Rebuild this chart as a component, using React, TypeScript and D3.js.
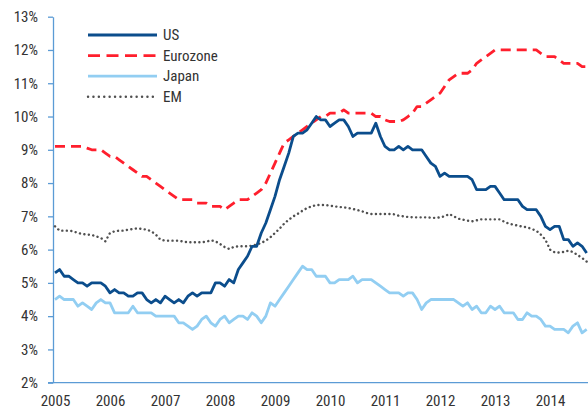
import React, { useEffect, useRef } from 'react';
import * as d3 from 'd3';

// monthly unemployment rate, Jan 2005 .. Sep 2014
const startYear = 2005;
const yearTicks = [2005, 2006, 2007, 2008, 2009, 2010, 2011, 2012, 2013, 2014];
const pctTicks = [2, 3, 4, 5, 6, 7, 8, 9, 10, 11, 12, 13];

const us = [
  5.3, 5.4, 5.2, 5.2, 5.1, 5.0, 5.0, 4.9, 5.0, 5.0, 5.0, 4.9,
  4.7, 4.8, 4.7, 4.7, 4.6, 4.6, 4.7, 4.7, 4.5, 4.4, 4.5, 4.4,
  4.6, 4.5, 4.4, 4.5, 4.4, 4.6, 4.7, 4.6, 4.7, 4.7, 4.7, 5.0,
  5.0, 4.9, 5.1, 5.0, 5.4, 5.6, 5.8, 6.1, 6.1, 6.5, 6.8, 7.2,
  7.6, 8.1, 8.5, 8.9, 9.4, 9.5, 9.5, 9.6, 9.8, 10.0, 9.9, 9.9,
  9.7, 9.8, 9.9, 9.9, 9.7, 9.4, 9.5, 9.5, 9.5, 9.5, 9.8, 9.4,
  9.1, 9.0, 9.0, 9.1, 9.0, 9.1, 9.0, 9.0, 9.0, 8.8, 8.6, 8.5,
  8.2, 8.3, 8.2, 8.2, 8.2, 8.2, 8.2, 8.1, 7.8, 7.8, 7.8, 7.9,
  7.9, 7.7, 7.5, 7.5, 7.5, 7.5, 7.3, 7.2, 7.2, 7.2, 7.0, 6.7,
  6.6, 6.7, 6.7, 6.3, 6.3, 6.1, 6.2, 6.1, 5.9
];

const eurozone = [
  9.1, 9.1, 9.1, 9.1, 9.1, 9.1, 9.1, 9.05, 9.0, 9.0, 9.0, 8.9,
  8.8, 8.8, 8.7, 8.6, 8.5, 8.4, 8.3, 8.2, 8.2, 8.1, 8.0, 7.9,
  7.8, 7.7, 7.6, 7.5, 7.5, 7.5, 7.5, 7.4, 7.4, 7.4, 7.3, 7.3,
  7.3, 7.2, 7.3, 7.4, 7.5, 7.5, 7.5, 7.6, 7.7, 7.8, 8.0, 8.3,
  8.6, 8.9, 9.2, 9.3, 9.4, 9.5, 9.6, 9.7, 9.8, 9.9, 10.0, 10.0,
  10.1, 10.1, 10.1, 10.2, 10.1, 10.1, 10.1, 10.1, 10.1, 10.1, 10.0, 10.0,
  9.9, 9.85, 9.85, 9.85, 9.9, 10.0, 10.1, 10.3, 10.3, 10.4, 10.5, 10.6,
  10.7, 10.9, 11.1, 11.2, 11.3, 11.3, 11.3, 11.4, 11.6, 11.7, 11.8, 11.9,
  12.0, 12.0, 12.0, 12.0, 12.0, 12.0, 12.0, 12.0, 12.0, 12.0, 11.9, 11.8,
  11.8, 11.8, 11.7, 11.6, 11.6, 11.6, 11.6, 11.5, 11.5
];

const japan = [
  4.5, 4.6, 4.5, 4.5, 4.5, 4.3, 4.4, 4.3, 4.2, 4.4, 4.5, 4.4,
  4.4, 4.1, 4.1, 4.1, 4.1, 4.3, 4.1, 4.1, 4.1, 4.1, 4.0, 4.0,
  4.0, 4.0, 4.0, 3.8, 3.8, 3.7, 3.6, 3.7, 3.9, 4.0, 3.8, 3.7,
  3.9, 4.0, 3.8, 3.9, 4.0, 4.0, 3.9, 4.1, 4.0, 3.8, 4.0, 4.4,
  4.3, 4.5, 4.7, 4.9, 5.1, 5.3, 5.5, 5.4, 5.4, 5.2, 5.2, 5.2,
  5.0, 5.0, 5.1, 5.1, 5.1, 5.2, 5.0, 5.1, 5.1, 5.1, 5.0, 4.9,
  4.8, 4.7, 4.7, 4.7, 4.6, 4.7, 4.7, 4.5, 4.2, 4.4, 4.5, 4.5,
  4.5, 4.5, 4.5, 4.5, 4.4, 4.3, 4.4, 4.2, 4.3, 4.1, 4.1, 4.3,
  4.2, 4.3, 4.1, 4.1, 4.1, 3.9, 3.9, 4.1, 4.0, 4.0, 3.9, 3.7,
  3.7, 3.6, 3.6, 3.6, 3.5, 3.7, 3.8, 3.5, 3.6
];

const em = [
  6.7, 6.57, 6.57, 6.57, 6.55, 6.5, 6.47, 6.45, 6.44, 6.4, 6.35, 6.25,
  6.5, 6.55, 6.57, 6.57, 6.6, 6.62, 6.64, 6.62, 6.6, 6.55, 6.45, 6.3,
  6.27, 6.27, 6.27, 6.27, 6.24, 6.22, 6.22, 6.22, 6.22, 6.24, 6.28, 6.25,
  6.17, 6.08, 6.02, 6.08, 6.1, 6.1, 6.1, 6.12, 6.15, 6.2, 6.27, 6.37,
  6.5, 6.63, 6.78, 6.9, 7.0, 7.08, 7.17, 7.25, 7.3, 7.34, 7.34, 7.34,
  7.32, 7.3, 7.28, 7.27, 7.25, 7.22, 7.19, 7.15, 7.1, 7.07, 7.07, 7.07,
  7.07, 7.07, 7.06, 7.02, 7.0, 6.98, 6.97, 6.97, 6.97, 6.97, 6.96, 6.95,
  6.97, 7.0, 7.07, 7.0, 6.93, 6.9, 6.87, 6.85, 6.88, 6.91, 6.91, 6.91,
  6.91, 6.91, 6.84, 6.78, 6.75, 6.72, 6.69, 6.67, 6.62, 6.57, 6.45, 6.3,
  6.0, 5.92, 5.91, 5.93, 5.97, 5.93, 5.84, 5.75, 5.64
];

const series = [
  { name: 'US', values: us, color: '#0b4d8c', width: 2.8, dash: null, cap: 'butt' },
  { name: 'Eurozone', values: eurozone, color: '#ff1f2d', width: 2.8, dash: '10 6', cap: 'butt' },
  { name: 'Japan', values: japan, color: '#92cef2', width: 2.8, dash: null, cap: 'butt' },
  { name: 'EM', values: em, color: '#505050', width: 2.4, dash: '0.1 4.4', cap: 'round' }
];

const drawOrder = ['Eurozone', 'EM', 'Japan', 'US'];

function App() {
  const ref = useRef<SVGSVGElement>(null);

  useEffect(() => {
    drawChart();
  }, []);

  function drawChart() {
    const width = 588;
    const svg = d3.select(ref.current);
    svg.selectAll('*').remove();

    const axisColor = '#5b9bd5';
    const textColor = '#333333';
    const font = "'Liberation Sans Narrow', 'Roboto Condensed', 'Arial Narrow', Roboto, sans-serif";

    const x = d3.scaleLinear().domain([2005, 2014]).range([55, 550]);
    const y = d3.scaleLinear().domain([2, 13]).range([382.7, 16.7]);
    const xLeft = 53;

    // y axis
    const yAxis = d3.axisLeft(y)
      .tickValues(pctTicks)
      .tickSize(5)
      .tickSizeOuter(0)
      .tickPadding(10)
      .tickFormat(d => d + '%');

    const ya = svg.append('g')
      .attr('transform', 'translate(' + xLeft + ',0)')
      .call(yAxis);
    ya.select('.domain').attr('stroke', axisColor).attr('stroke-width', 1.3);
    ya.selectAll('.tick line').attr('stroke', axisColor).attr('stroke-width', 1.3);
    ya.selectAll('.tick text')
      .attr('fill', textColor)
      .style('font-family', font)
      .style('font-size', '15px');

    // x axis
    const xAxis = d3.axisBottom(x)
      .tickValues(yearTicks)
      .tickSize(0)
      .tickSizeOuter(0)
      .tickPadding(13)
      .tickFormat(d3.format('d'));

    const xa = svg.append('g')
      .attr('transform', 'translate(0,' + y(2) + ')')
      .call(xAxis);
    xa.select('.domain').remove();
    xa.append('line')
      .attr('x1', xLeft - 5)
      .attr('x2', width)
      .attr('stroke', axisColor)
      .attr('stroke-width', 1.3);
    xa.selectAll('.tick text')
      .attr('fill', textColor)
      .style('font-family', font)
      .style('font-size', '15px');

    const line = d3.line<number>()
      .x((d, i) => x(startYear + i / 12))
      .y(d => y(d));

    const plot = svg.append('g');
    drawOrder.forEach(function(name) {
      const s = series.find(s => s.name == name)!;
      const p = plot.append('path')
        .datum(s.values)
        .attr('d', line)
        .attr('fill', 'none')
        .attr('stroke', s.color)
        .attr('stroke-width', s.width)
        .attr('stroke-linejoin', 'round')
        .attr('stroke-linecap', s.cap);
      if (s.dash) p.attr('stroke-dasharray', s.dash);
    });

    // legend
    const legend = svg.append('g').attr('transform', 'translate(88,35)');
    series.forEach(function(s, i) {
      const g = legend.append('g').attr('transform', 'translate(0,' + i * 20.6 + ')');
      const l = g.append('line')
        .attr('x1', 0)
        .attr('x2', 69)
        .attr('stroke', s.color)
        .attr('stroke-width', s.width)
        .attr('stroke-linecap', s.cap);
      if (s.name == 'Eurozone') l.attr('stroke-dasharray', '12 6.5');
      else if (s.dash) l.attr('stroke-dasharray', '0.1 5.3');
      g.append('text')
        .attr('x', 75)
        .attr('dy', '0.35em')
        .attr('fill', textColor)
        .style('font-family', font)
        .style('font-size', '15px')
        .text(s.name);
    });
  }

  return (
    <svg ref={ref} width={588} height={409}
      style={{ position: 'absolute', left: 0, top: 0, background: '#fff' }} />
  );
}

export default App;
